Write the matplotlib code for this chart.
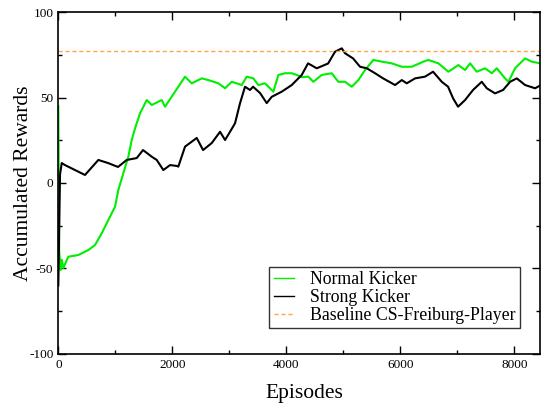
import numpy as np
import matplotlib.pyplot as plt
from matplotlib.ticker import MultipleLocator

# values (episode, accumulated reward)
normal_ep = [0, 15, 40, 60, 88, 175, 351, 526, 644, 761, 877, 995, 1053, 1140, 1228, 1288,
             1346, 1433, 1551, 1639, 1814, 1872, 2047, 2223, 2340, 2516, 2632, 2807, 2925,
             3042, 3218, 3305, 3421, 3509, 3626, 3772, 3860, 3977, 4095, 4182, 4270, 4386,
             4474, 4621, 4796, 4912, 5030, 5147, 5263, 5381, 5526, 5674, 5849, 6025, 6200,
             6404, 6491, 6667, 6842, 7018, 7135, 7223, 7340, 7486, 7604, 7691, 7837, 7895,
             8012, 8188, 8305, 8451]
normal_val = [45, -40, -51, -45, -49.8, -43.2, -42.2, -39.3, -36.3, -29.5, -21.7, -13.9, -4.1,
              5.7, 15.4, 25.2, 32, 40.8, 48.6, 45.7, 48.6, 44.7, 53.5, 62.3, 58.4, 61.3, 60.3,
              58.4, 55.5, 59.3, 57.4, 62.3, 61.3, 57.4, 58.4, 53.5, 63.3, 64.3, 64.3, 63.3, 62,
              62.3, 59.3, 63.3, 64.3, 59.3, 59.3, 56.4, 60.3, 66.2, 72.1, 71.1, 70.1, 68.1,
              68.1, 71.1, 72.1, 70.1, 65.2, 69.1, 66.2, 70.1, 65.2, 67.2, 64.3, 67.2, 61.3,
              59.3, 67.2, 73, 71.1, 70.1]

strong_ep = [0, 30, 60, 117, 468, 702, 872, 1047, 1200, 1375, 1486, 1639, 1726, 1842, 1960,
             2077, 2105, 2223, 2428, 2539, 2691, 2837, 2925, 3012, 3100, 3188, 3275, 3363,
             3416, 3539, 3656, 3744, 3919, 4095, 4270, 4381, 4533, 4732, 4854, 4972, 5030,
             5170, 5293, 5411, 5556, 5697, 5907, 6025, 6112, 6258, 6433, 6574, 6726, 6837,
             6925, 7012, 7135, 7275, 7428, 7516, 7661, 7802, 7925, 8042, 8188, 8363, 8468]
strong_val = [-60, 5, 11.7, 10.5, 4.7, 13.5, 11.7, 9.4, 13.5, 14.6, 19.3, 15.4, 13.5, 7.6,
              10.5, 10, 9.6, 21.3, 26.4, 19.3, 23.4, 30, 25.2, 30, 35, 46.8, 56.4, 54.5, 56.4,
              52.7, 46.8, 50.5, 53.5, 57.4, 63.3, 70.1, 67.2, 70, 76.9, 78.9, 76, 73, 68.1,
              67.2, 64.3, 61.3, 57.4, 60.3, 58.4, 61.3, 62.3, 65.2, 59.3, 56.4, 49.6, 44.7,
              48.6, 54.5, 59.3, 55.5, 52.5, 54.5, 59.3, 61.3, 57.4, 55.5, 57.4]

baseline = 77.5

plt.rcParams['font.family'] = ['Liberation Serif', 'DejaVu Serif']
plt.rcParams['axes.unicode_minus'] = False

fig = plt.figure(figsize=(5.41, 4.05), dpi=100)
ax = fig.add_axes([0.1078, 0.1267, 0.8904, 0.8429])

ax.plot(normal_ep, normal_val, color='#00ee00', lw=1.5, label='Normal Kicker')
ax.plot(strong_ep, strong_val, color='black', lw=1.5, label='Strong Kicker')
ax.axhline(baseline, color='#ffa64d', lw=1.0, ls=(0, (3, 2)), label='Baseline CS-Freiburg-Player')

ax.set_xlim(0, 8450)
ax.set_ylim(-100, 100)
ax.xaxis.set_major_locator(MultipleLocator(2000))
ax.xaxis.set_minor_locator(MultipleLocator(1000))
ax.yaxis.set_major_locator(MultipleLocator(50))
ax.yaxis.set_minor_locator(MultipleLocator(25))
ax.tick_params(which='both', direction='in', top=True, right=True, labelsize=9.5, width=1)
ax.tick_params(which='major', length=6)
ax.tick_params(which='minor', length=3)
for s in ax.spines.values():
    s.set_linewidth(1.2)

ax.set_xlabel('Episodes', fontsize=15.5)
ax.set_ylabel('Accumulated Rewards', fontsize=15.5)
ax.xaxis.set_label_coords(0.51, -0.09)
ax.yaxis.set_label_coords(-0.053, 0.5)

leg = ax.legend(loc='lower right', bbox_to_anchor=(0.9585, 0.0744), borderaxespad=0,
                fontsize=12.8, frameon=True, fancybox=False, edgecolor='black',
                handlelength=1.15, handletextpad=0.9, labelspacing=0.05, borderpad=0.25)
leg.get_frame().set_linewidth(1.0)
for ln in leg.get_lines():
    ln.set_linewidth(1.0)

fig.savefig('out.png', dpi=100)
